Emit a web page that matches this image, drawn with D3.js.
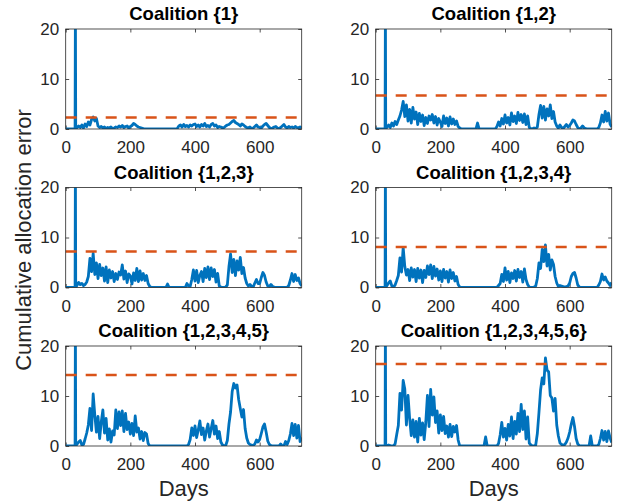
<!DOCTYPE html>
<html>
<head>
<meta charset="utf-8">
<script src="https://cdn.jsdelivr.net/npm/d3@7"></script>
<style>
  body { margin: 0; background: #fff; }
  svg { display: block; font-family: "Liberation Sans", Arial, Helvetica, sans-serif; }
</style>
</head>
<body>
<div id="chart"></div>
<script>
// panel titles and the dashed bound of each coalition
const titles = ["Coalition {1}", "Coalition {1,2}", "Coalition {1,2,3}",
  "Coalition {1,2,3,4}", "Coalition {1,2,3,4,5}", "Coalition {1,2,3,4,5,6}"];
const bounds = [2.3, 6.7, 7.2, 8.1, 14.2, 16.4];
const xTicks = [0, 200, 400, 600];
const yTicks = [0, 10, 20];

// sample days (every 5 days, with the day-30 spike squeezed in)
const days = d3.range(0, 731, 5).map(d => d === 25 ? 29 : d === 35 ? 31 : d);

// cumulative allocation error, one value per sample day
const err1 = [
  0, 0, 0, 0, 0, 0, 25, 0, 0.6, 0.3,
  0.8, 0.2, 1.0, 0.5, 1.4, 0.8, 1.9, 2.4, 1.6, 2.1,
  0.6, 0.3, 0.5, 0.2, 0.4, 0.1, 0.3, 0.2, 0.4, 0.1,
  0.2, 0.4, 0.3, 0.6, 0.4, 0.7, 0.3, 0.5, 0.6, 0.2,
  0.5, 0.7, 1.1, 0.9, 0.6, 0.4, 0.3, 0.2, 0.1, 0,
  0, 0, 0, 0, 0, 0, 0, 0, 0, 0,
  0, 0, 0, 0, 0, 0, 0, 0, 0, 0.1,
  0.6, 0.8, 0.4, 0.9, 0.5, 0.7, 0.4, 0.8, 0.6, 0.9,
  1.0, 0.5, 0.8, 0.4, 0.9, 0.6, 1.1, 0.5, 0.7, 0.4,
  0.9, 1.1, 0.6, 0.8, 0.3, 0.5, 0.4, 0.2, 0.3, 0.6,
  0.8, 0.9, 1.2, 1.5, 1.7, 1.3, 1.1, 0.9, 0.6, 1.0,
  0.8, 0.5, 0.3, 0.2, 0.4, 0.1, 0.2, 0.5, 0.8, 0.4,
  0.3, 0.2, 0.6, 0.9, 1.1, 0.7, 0.3, 0.1, 0.2, 0.4,
  0.5, 0.2, 0.1, 0.3, 0.6, 0.9, 0.4, 0.2, 0.5, 0.3,
  0.4, 0.2, 0.5, 0.3, 0.2, 0.4, 0.2
];
const err2 = [
  0, 0, 0, 0, 0, 0, 25, 0, 0.8, 0.3,
  1.2, 0.6, 1.5, 0.9, 1.8, 2.6, 3.8, 5.5, 2.5, 4.8,
  1.6, 3.9, 1.2, 4.3, 2.0, 3.4, 0.9, 3.1, 1.5, 2.8,
  0.7, 2.3, 1.1, 2.6, 1.8, 2.9, 1.2, 2.5, 0.8, 2.1,
  1.4, 0.5, 2.6, 1.1, 2.2, 0.6, 2.4, 1.0, 2.0, 0.9,
  1.6, 0.5, 0.2, 0, 0, 0, 0, 0, 0, 0,
  0, 0, 0, 1.2, 0, 0, 0, 0, 0, 0,
  0, 0, 0, 0, 0, 0.5, 1.4, 0.6, 2.1, 1.0,
  2.8, 1.2, 2.3, 0.8, 3.2, 1.5, 2.6, 1.1, 3.3, 1.7,
  2.9, 1.3, 3.0, 0.9, 2.6, 0.3, 0.1, 0, 0.2, 0.1,
  0.4, 2.9, 4.7, 2.2, 4.5, 1.8, 4.0, 2.6, 4.8, 2.1,
  3.5, 1.4, 0.6, 0.2, 0.8, 0.3, 0.1, 0.5, 0.9, 0.4,
  0.7, 1.2, 1.8, 1.6, 0.9, 0.3, 0, 0.2, 0.6, 0.2,
  0.1, 0, 0, 0, 0, 0, 0, 0, 0.3, 1.2,
  2.8, 1.4, 3.5, 1.6, 3.2, 1.0, 0.4
];
const err3 = [
  0, 0, 0, 0, 0, 0, 25, 0, 1.0, 0.6,
  0.8, 0.4, 0.6, 1.1, 2.2, 5.8, 3.2, 6.8, 2.6, 4.9,
  1.8, 4.6, 2.4, 3.9, 1.3, 4.1, 1.0, 3.5, 1.9, 3.2,
  1.2, 2.8, 1.6, 3.1, 2.5, 4.5, 1.7, 3.3, 1.0, 2.7,
  2.3, 0.7, 2.9, 1.4, 3.8, 1.2, 3.3, 1.5, 2.8, 1.4,
  2.4, 0.8, 0.2, 0, 0, 0, 0, 0, 0, 0,
  0, 0, 0, 0.7, 0, 0, 0, 0, 0, 0,
  0, 0, 0, 0, 0, 0.8, 0.3, 0.2, 1.6, 3.5,
  1.3, 3.4, 1.0, 2.4, 3.2, 1.2, 3.8, 2.0, 4.1, 1.6,
  3.9, 2.2, 3.6, 1.1, 2.8, 0.3, 0.1, 0, 0, 0.1,
  0.5, 4.2, 6.7, 3.0, 5.6, 2.4, 5.3, 3.5, 6.0, 2.8,
  4.0, 1.9, 0.8, 0.3, 0.6, 0.2, 0.1, 0.9, 1.6, 0.8,
  0.8, 2.0, 3.0, 2.4, 1.1, 0.3, 0.2, 0.6, 0.2, 0.1,
  0, 0, 0, 0, 0, 0, 0, 0, 0.4, 1.5,
  2.8, 1.2, 2.6, 1.4, 1.9, 0.8, 0.3
];
const err4 = [
  0, 0, 0, 0, 0, 0, 25, 0, 0.9, 1.3,
  0.3, 0.1, 0.5, 1.4, 2.4, 5.9, 3.1, 8.0, 4.2, 2.5,
  3.6, 1.4, 3.9, 2.1, 3.6, 1.2, 3.8, 1.9, 3.5, 1.0,
  3.4, 2.0, 4.3, 2.6, 4.5, 1.8, 4.2, 2.3, 3.7, 1.5,
  3.3, 1.2, 3.6, 1.9, 3.2, 1.1, 3.5, 1.8, 3.0, 1.3,
  2.2, 0.6, 0.1, 0, 0, 0, 0, 0, 0, 0,
  0, 0, 0, 0, 0, 0, 0, 0, 0, 0,
  0, 0, 0, 0, 0, 0, 0.4, 0.8, 2.6, 1.2,
  3.9, 1.5, 3.2, 1.0, 2.9, 1.8, 3.4, 1.3, 3.6, 2.0,
  3.2, 1.1, 3.7, 1.6, 0.6, 0.1, 0, 0, 0.1, 0.3,
  1.8, 4.9, 3.8, 7.6, 5.2, 8.5, 4.3, 6.6, 3.5, 5.5,
  4.6, 2.2, 0.9, 0.2, 0.4, 0.3, 0.2, 0.1, 0.2, 0.3,
  0.9, 2.2, 2.8, 3.0, 1.9, 0.5, 0.1, 0, 0, 0,
  0, 0, 0, 0, 0, 0, 0, 0, 0.5, 1.2,
  2.7, 1.5, 2.1, 1.3, 0.9, 0.4, 1.0
];
const err5 = [
  0, 0, 0, 0, 0, 0, 25, 0, 0.8, 1.1,
  0.2, 0.3, 1.4, 2.6, 4.2, 7.5, 3.1, 10.4, 6.2, 2.8,
  5.9, 1.5, 4.8, 7.2, 2.6, 5.5, 1.2, 3.4, 0.8, 3.0,
  2.2, 7.2, 3.5, 6.8, 4.1, 7.0, 2.9, 6.5, 3.3, 4.8,
  2.4, 4.5, 2.1, 6.0, 2.8, 3.6, 1.4, 2.9, 1.1, 2.7,
  2.4, 0.5, 0, 0, 0, 0, 0, 0, 0, 0,
  0, 0, 0, 0, 0, 0, 0, 0, 0, 0,
  0, 0, 0, 0, 0, 0, 0.3, 1.3, 3.6, 2.1,
  4.0, 1.7, 3.2, 5.0, 2.3, 3.6, 1.2, 3.0, 4.4, 1.8,
  3.5, 5.1, 2.4, 4.0, 1.5, 2.9, 0.8, 0.2, 0, 0.1,
  1.1, 4.4, 6.8, 10.9, 12.5, 11.6, 12.2, 9.3, 7.5, 5.8,
  7.3, 3.5, 1.6, 0.6, 0.3, 0.2, 0.1, 0.4, 1.2, 0.8,
  1.3, 2.5, 3.8, 4.4, 2.8, 1.0, 0.3, 0.1, 0, 0,
  0, 0, 0, 0.4, 0, 0, 0.9, 0.3, 1.1, 2.4,
  4.5, 2.1, 4.3, 1.6, 4.1, 0.9, 1.7
];
const err6 = [
  0, 0, 0, 0, 0, 0, 25, 0, 0.2, 0.1,
  0, 0, 0.4, 2.3, 4.1, 10.5, 7.2, 13.1, 11.4, 4.2,
  10.1, 5.5, 2.1, 5.2, 1.8, 4.9, 0.8, 5.5, 2.2, 4.6,
  1.3, 4.8, 10.1, 3.9, 11.3, 6.2, 9.8, 4.7, 7.0, 2.6,
  6.2, 3.1, 5.9, 2.5, 4.0, 1.8, 4.3, 1.9, 3.9, 2.8,
  4.1, 1.2, 0, 0, 0, 0, 0, 0, 0, 0,
  0, 0, 0, 0, 0, 0, 0, 0, 1.8, 0,
  0, 0, 0, 0, 0, 0, 0.5, 2.2, 4.7, 1.8,
  3.5, 1.2, 4.3, 2.0, 5.8, 1.5, 4.9, 2.4, 6.5, 2.9,
  8.3, 3.3, 7.0, 1.4, 5.8, 0.6, 0.2, 0, 0, 0.2,
  2.5, 6.7, 11.2, 13.6, 12.4, 17.6, 15.2, 14.8, 10.1, 9.6,
  7.0, 9.5, 4.2, 2.0, 0.6, 0.3, 0.1, 0.3, 0.8, 1.6,
  2.8, 4.4, 5.7, 3.9, 1.5, 0.4, 0.1, 0, 0, 0,
  0, 0, 0, 2.0, 0, 0, 0, 0, 0.3, 1.5,
  3.1, 1.2, 2.9, 0.9, 3.0, 1.6, 0.7
];
const series = [err1, err2, err3, err4, err5, err6];

const W = 619, H = 504;
const colX = [65.7, 375.7], rowY = [29, 187.5, 346];
const pw = 236, ph = 100;

const svg = d3.select("#chart").append("svg")
  .attr("width", W).attr("height", H);

const x = d3.scaleLinear().domain([0, 730]).range([0, pw]);
const y = d3.scaleLinear().domain([0, 20]).range([ph, 0]);

const line = d3.line()
  .x((d, i) => x(days[i]))
  .y(d => y(d));

series.forEach((vals, k) => {
  const col = k % 2, row = Math.floor(k / 2);
  const g = svg.append("g")
    .attr("transform", "translate(" + colX[col] + "," + rowY[row] + ")");

  g.append("clipPath").attr("id", "clip" + k)
    .append("rect").attr("width", pw).attr("height", ph);

  // axes with inward ticks, box on
  const ax = g.append("g").attr("class", "axes");
  ax.append("g").attr("transform", "translate(0," + ph + ")")
    .call(d3.axisBottom(x).tickValues(xTicks).tickSize(-3.5).tickPadding(12));
  ax.append("g")
    .call(d3.axisTop(x).tickValues(xTicks).tickSize(-3.5).tickFormat(""));
  ax.append("g")
    .call(d3.axisLeft(y).tickValues(yTicks).tickSize(-3.5).tickPadding(6.5));
  ax.append("g").attr("transform", "translate(" + pw + ",0)")
    .call(d3.axisRight(y).tickValues(yTicks).tickSize(-3.5).tickFormat(""));
  ax.selectAll(".domain").remove();
  ax.selectAll(".tick line").attr("stroke", "#262626").attr("stroke-width", 0.8);
  ax.selectAll(".tick text").attr("fill", "#262626")
    .style("font-size", "17px")
    .style("font-family", "'Liberation Sans', Arial, Helvetica, sans-serif");

  g.append("path")
    .datum(vals)
    .attr("clip-path", "url(#clip" + k + ")")
    .attr("fill", "none")
    .attr("stroke", "#0072BD")
    .attr("stroke-width", 2.8)
    .attr("stroke-linejoin", "round")
    .attr("d", line);

  g.append("line")
    .attr("x1", x(0)).attr("x2", x(730))
    .attr("y1", y(bounds[k])).attr("y2", y(bounds[k]))
    .attr("stroke", "#D95319")
    .attr("stroke-width", 2.6)
    .attr("stroke-dasharray", "11,9");

  g.append("rect")
    .attr("width", pw).attr("height", ph)
    .attr("fill", "none")
    .attr("stroke", "#262626")
    .attr("stroke-width", 0.8);

  g.append("text")
    .attr("x", pw / 2).attr("y", -9)
    .attr("text-anchor", "middle")
    .style("font-size", "18.5px").style("font-weight", "bold")
    .attr("fill", "#000")
    .text(titles[k]);

  if (row === 2) {
    g.append("text")
      .attr("x", pw / 2).attr("y", 150)
      .attr("text-anchor", "middle")
      .style("font-size", "22px")
      .attr("fill", "#262626")
      .text("Days");
  }
});

svg.append("text")
  .attr("transform", "translate(31,240) rotate(-90)")
  .attr("text-anchor", "middle")
  .style("font-size", "22px")
  .attr("fill", "#262626")
  .text("Cumulative allocation error");
</script>
</body>
</html>
